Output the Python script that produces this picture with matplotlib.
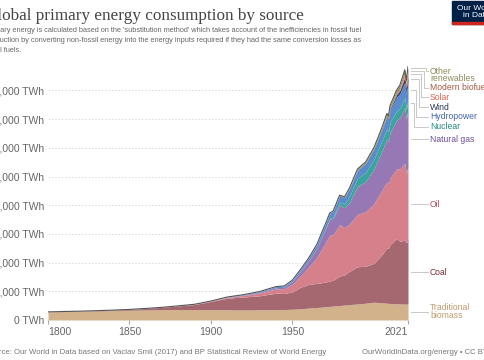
import matplotlib
matplotlib.use("Agg")
import matplotlib.pyplot as plt
import matplotlib.transforms as mtrans
from matplotlib.patches import Rectangle
import numpy as np

years = [1800, 1810, 1820, 1830, 1840, 1850, 1860, 1870, 1880, 1890,
         1900, 1910, 1920, 1930, 1940, 1945, 1950, 1955, 1960,
         1965, 1970, 1973, 1975, 1979, 1982, 1985,
         1990, 1995, 2000, 2005, 2008, 2009, 2010,
         2014, 2016, 2019, 2020, 2021]

biomass = [5556, 5800, 6000, 6250, 6500, 6800, 7000, 7200, 7300, 7300,
           7200, 7100, 7000, 7100, 7200, 7300, 7500, 7800, 8300,
           8700, 9200, 9500, 9700, 10100, 10400, 10700,
           11200, 11700, 12400, 12000, 11700, 11600, 11500,
           11300, 11200, 11100, 11100, 11100]
coal = [97, 130, 170, 250, 380, 569, 1060, 1622, 2511, 3470,
        5728, 8100, 9000, 9800, 11500, 11200, 12100, 15000, 16500,
        16800, 17100, 17700, 18000, 20500, 21000, 23200,
        25900, 25800, 27000, 33500, 38500, 38300, 41000,
        45500, 43700, 44500, 42700, 45000]
oil = [0, 0, 0, 0, 0, 0, 0, 10, 50, 150,
       181, 500, 1100, 1900, 3000, 3300, 5200, 8000, 12000,
       18100, 26700, 32000, 31500, 36000, 33000, 33000,
       36500, 38000, 41500, 45000, 46000, 45000, 46500,
       48500, 50500, 53600, 48000, 51000]
gas = [0, 0, 0, 0, 0, 0, 0, 0, 0, 50,
       64, 150, 250, 550, 800, 1000, 2000, 3000, 4500,
       6300, 9600, 11200, 11500, 13700, 13800, 15000,
       19500, 21000, 24000, 27200, 30000, 29500, 31600,
       34000, 35500, 38800, 38000, 40400]
nuclear = [0] * 19 + [70, 230, 550, 1000, 1900, 2600, 4300,
                      5600, 6300, 6900, 7200, 7000, 6900, 7000,
                      6300, 6500, 6900, 6800, 7000]
hydro = [0] * 10 + [50, 150, 300, 500, 800, 900, 1000, 1400, 1850,
                    2500, 3200, 3500, 3900, 4400, 4600, 5000,
                    5600, 6300, 6900, 7500, 8200, 8200, 8800,
                    9800, 10300, 10800, 11100, 11000]
wind = [0] * 26 + [10, 20, 80, 270, 570, 740, 900,
                   1700, 2300, 3500, 4000, 4900]
solar = [0] * 29 + [10, 30, 50, 80, 500, 850, 1800, 2100, 2700]
biofuels = [0] * 23 + [30, 60, 100, 130, 150, 110, 250, 550, 600, 640,
                       860, 900, 1100, 1000, 1100]
other = [0] * 19 + [150, 200, 230, 250, 330, 400, 550,
                    800, 900, 1000, 1200, 1350, 1400, 1500,
                    1750, 1900, 2200, 2300, 2400]

series = [biomass, coal, oil, gas, nuclear, hydro, wind, solar, biofuels, other]
fills = ["#d2b28a", "#a66870", "#d6808c", "#9678b4", "#3ca59b",
         "#5a8ccd", "#36406a", "#e67864", "#be6e46", "#828c50"]

# labels: (text lines, label y in data units, text colour)
labels = [
    (["Traditional", "biomass"], 5600, "#c19a6b"),
    (["Coal"], 33400, "#7f2f3a"),
    (["Oil"], 80800, "#b3495e"),
    (["Natural gas"], 126100, "#6d4fa0"),
    (["Nuclear"], 134500, "#1f8a7f"),
    (["Hydropower"], 141500, "#3f66ad"),
    (["Wind"], 148400, "#2b3452"),
    (["Solar"], 155400, "#e0614c"),
    (["Modern biofuels"], 161700, "#a25a45"),
    (["Other", "renewables"], 173500, "#8c8c5a"),
]

W, H = 485, 360
fig = plt.figure(figsize=(W / 100, H / 100), dpi=100)
ax = fig.add_axes([48 / W, 40 / H, 360 / W, 258.3 / H])

tops = np.cumsum(np.array(series, dtype=float), axis=0)
bottom = np.zeros(len(years))
for s, c, top in zip(series, fills, tops):
    ax.fill_between(years, bottom, top, color=c, lw=0, zorder=2)
    bottom = top
ax.plot(years, tops[-1], color="#555555", lw=0.8, zorder=3)

ax.set_xlim(1800, 2021)
ax.set_ylim(0, 180000)
yt = list(range(0, 180000, 20000))
ax.set_yticks(yt)
ax.set_yticklabels([f"{v:,} TWh" for v in yt], fontsize=7.5, color="#666666",
                   family="Liberation Sans")
ax.set_xticks([1800, 1850, 1900, 1950, 2021])
ax.set_xticklabels(["1800", "1850", "1900", "1950", "2021"], fontsize=7.5,
                   color="#666666", family="Liberation Sans")
xl = ax.get_xticklabels()
xl[0].set_ha("left")
xl[-1].set_ha("right")
ax.tick_params(axis="y", length=0, pad=3)
ax.tick_params(axis="x", length=3, color="#aaaaaa", pad=2)
for sp in ax.spines.values():
    sp.set_visible(False)
ax.grid(axis="y", color="#d8d8d8", lw=0.6, ls=(0, (2, 2)), zorder=1)
ax.set_axisbelow(True)

# right-hand labels with leaders
bl = mtrans.blended_transform_factory(fig.transFigure, ax.transData)
ends = tops[:, -1]
starts = np.concatenate([[0], ends[:-1]])
mids = (starts + ends) / 2
elbows = {4: 414, 5: 416.5, 6: 419, 7: 421.5, 8: 424, 9: 426}
lab_fs = 6.2
for i, (lines, ly, col) in enumerate(labels):
    x0, x1 = 411 / W, 428 / W
    if i in elbows:
        xe = elbows[i] / W
        ax.plot([x0, xe, xe, x1], [mids[i], mids[i], ly, ly], color="#c8c8c8",
                lw=0.7, transform=bl, clip_on=False)
    else:
        ax.plot([x0, x1], [ly, ly], color="#c8c8c8", lw=0.7, transform=bl,
                clip_on=False)
    if len(lines) == 1:
        ax.text(430 / W, ly, lines[0], transform=bl, fontsize=lab_fs,
                color=col, va="center", ha="left", family="Liberation Sans")
    elif i == 0:
        ax.text(430 / W, ly + 2800, lines[0], transform=bl, fontsize=lab_fs,
                color=col, va="center", ha="left", family="Liberation Sans")
        ax.text(430 / W, ly - 2800, lines[1], transform=bl, fontsize=lab_fs,
                color=col, va="center", ha="left", family="Liberation Sans")
    else:
        ax.text(430 / W, ly, lines[0], transform=bl, fontsize=lab_fs,
                color=col, va="center", ha="left", family="Liberation Sans")
        ax.text(430 / W, ly - 5200, lines[1], transform=bl, fontsize=lab_fs,
                color=col, va="center", ha="left", family="Liberation Sans")

# title, subtitle, footer
fig.text(-15 / W, 1 - 16 / H, "Global primary energy consumption by source",
         fontsize=12.3, color="#444444", family="Liberation Serif", va="center")
sub = ["Primary energy is calculated based on the 'substitution method' which takes account of the inefficiencies in fossil fuel",
       "production by converting non-fossil energy into the energy inputs required if they had the same conversion losses as",
       "fossil fuels."]
for k, line in enumerate(sub):
    fig.text(-15 / W, 1 - (31 + k * 9.5) / H, line, fontsize=5.35,
             color="#666666", family="Liberation Sans", va="center")
fig.text(-15 / W, 1 - 353 / H,
         "Source: Our World in Data based on Vaclav Smil (2017) and BP Statistical Review of World Energy",
         fontsize=5.6, color="#777777", family="Liberation Sans", va="center")
fig.text(362 / W, 1 - 353 / H, "OurWorldInData.org/energy \u2022 CC BY",
         fontsize=5.6, color="#777777", family="Liberation Sans", va="center")

# logo
fig.patches.append(Rectangle((452 / W, 1 - 24 / H), 60 / W, 23 / H,
                             transform=fig.transFigure, color="#002147"))
fig.patches.append(Rectangle((452 / W, 1 - 24 / H), 60 / W, 2.5 / H,
                             transform=fig.transFigure, color="#ce261e"))
fig.text(476 / W, 1 - 12 / H, "Our World\nin Data", fontsize=6, color="white",
         ha="center", va="center", linespacing=1.0, family="Liberation Sans")

fig.savefig("out.png", dpi=100)
